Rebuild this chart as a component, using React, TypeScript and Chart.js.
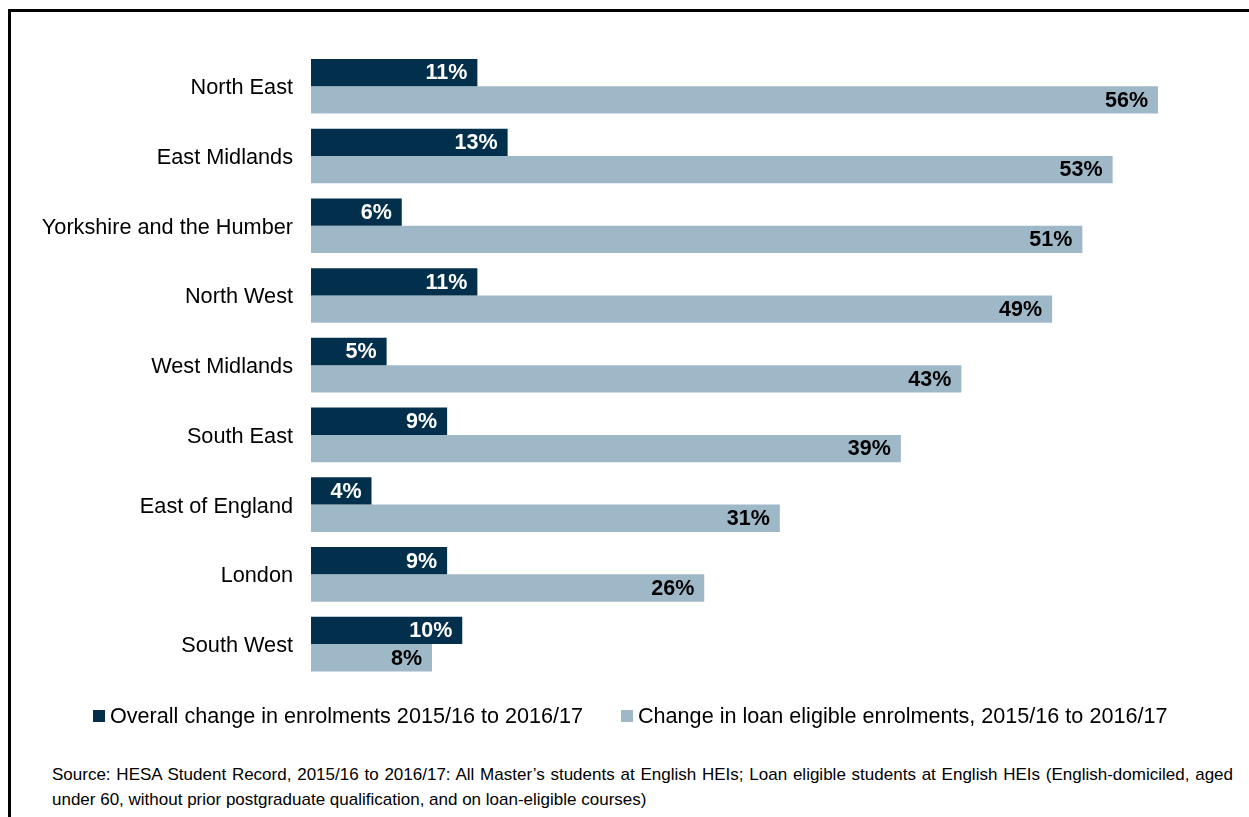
import React, { useEffect, useRef } from "react";
import { Chart, registerables } from "chart.js";

Chart.register(...registerables);

const categories = [
  "North East",
  "East Midlands",
  "Yorkshire and the Humber",
  "North West",
  "West Midlands",
  "South East",
  "East of England",
  "London",
  "South West",
];
const overallChange = [11, 13, 6, 11, 5, 9, 4, 9, 10];
const loanEligibleChange = [56, 53, 51, 49, 43, 39, 31, 26, 8];
const seriesNames = [
  "Overall change in enrolments 2015/16 to 2016/17",
  "Change in loan eligible enrolments, 2015/16 to 2016/17",
];
const sourceText =
  "Source: HESA Student Record, 2015/16 to 2016/17: All Master\u2019s students at English HEIs; Loan eligible students at English HEIs (English-domiciled, aged under 60, without prior postgraduate qualification, and on loan-eligible courses)";

const DARK = "#02304c";
const LIGHT = "#9fb8c7";
const FONT = "'Liberation Sans', Arial, sans-serif";

const valueLabels = {
  id: "valueLabels",
  afterDatasetsDraw(chart: any) {
    const ctx = chart.ctx;
    ctx.save();
    ctx.font = `bold 21.5px ${FONT}`;
    ctx.textAlign = "right";
    ctx.textBaseline = "middle";
    chart.data.datasets.forEach((ds: any, di: number) => {
      const meta = chart.getDatasetMeta(di);
      ctx.fillStyle = di === 0 ? "#ffffff" : "#000000";
      meta.data.forEach((bar: any, i: number) => {
        ctx.fillText(`${ds.data[i]}%`, bar.x - 10, bar.y + 1);
      });
    });
    ctx.restore();
  },
};

export default function App() {
  const ref = useRef<HTMLCanvasElement | null>(null);
  useEffect(() => {
    if (!ref.current) return;
    const chart = new Chart(ref.current, {
      type: "bar",
      data: {
        labels: categories,
        datasets: [
          {
            label: seriesNames[0],
            data: overallChange,
            backgroundColor: DARK,
            categoryPercentage: 0.782,
            barPercentage: 1,
          },
          {
            label: seriesNames[1],
            data: loanEligibleChange,
            backgroundColor: LIGHT,
            categoryPercentage: 0.782,
            barPercentage: 1,
          },
        ],
      },
      options: {
        indexAxis: "y",
        animation: false,
        responsive: false,
        maintainAspectRatio: false,
        layout: { padding: { left: 0, right: 30.5, top: 51.3, bottom: 25.9 } },
        plugins: {
          legend: { display: false },
          tooltip: { enabled: false },
        },
        scales: {
          x: { display: false, min: 0, max: 60 },
          y: {
            grid: { display: false, drawTicks: false },
            border: { display: false },
            ticks: {
              color: "#000",
              font: { family: FONT, size: 21.7 },
              padding: 18,
              labelOffset: 2,
            },
            afterFit(scale: any) {
              scale.width = 311;
            },
          },
        },
      },
      plugins: [valueLabels],
    });
    return () => chart.destroy();
  }, []);

  return (
    <div
      style={{
        position: "fixed",
        left: 0,
        top: 0,
        width: 1249,
        height: 817,
        overflow: "hidden",
        background: "#fff",
        fontFamily: FONT,
      }}
    >
      <div
        style={{
          position: "absolute",
          left: 8,
          top: 9,
          width: 2000,
          height: 2000,
          borderTop: "3px solid #000",
          borderLeft: "3px solid #000",
        }}
      />
      <canvas
        ref={ref}
        width={1249}
        height={710}
        style={{ position: "absolute", left: 0, top: 0, width: 1249, height: 710 }}
      />
      <div
        style={{
          position: "absolute",
          left: 93,
          top: 704,
          height: 24,
          display: "flex",
          alignItems: "center",
          gap: 38,
          fontSize: 21.6,
          lineHeight: "24px",
          color: "#000",
          whiteSpace: "nowrap",
        }}
      >
        {seriesNames.map((name, i) => (
          <div key={name} style={{ display: "flex", alignItems: "center" }}>
            <span
              style={{
                display: "inline-block",
                width: 12,
                height: 12,
                marginRight: 5,
                background: i === 0 ? DARK : LIGHT,
              }}
            />
            <span>{name}</span>
          </div>
        ))}
      </div>
      <div
        style={{
          position: "absolute",
          left: 52,
          top: 762,
          width: 1181,
          fontSize: 17,
          lineHeight: "25px",
          textAlign: "justify",
          color: "#000",
        }}
      >
        {sourceText}
      </div>
    </div>
  );
}
